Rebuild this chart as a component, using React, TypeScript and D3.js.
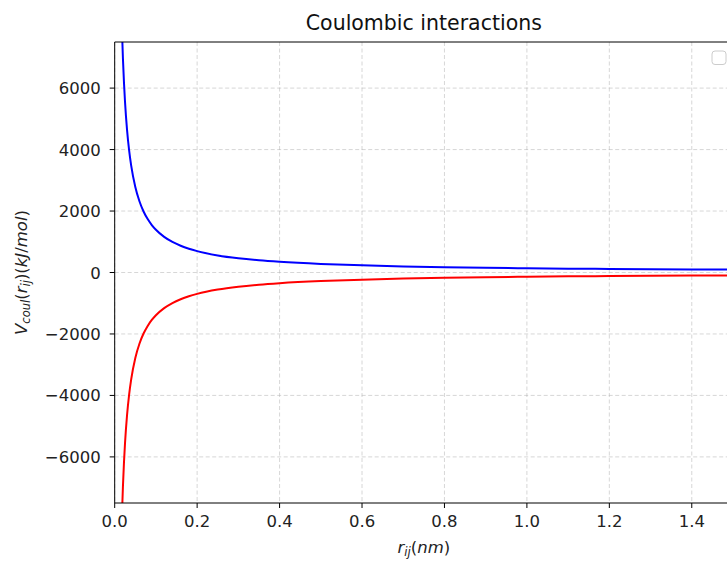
import React from "react";
import * as d3 from "d3";

const rValues = [0.015, 0.0175, 0.02, 0.0225, 0.025, 0.03, 0.035, 0.04, 0.05, 0.06, 0.07, 0.08, 0.09, 0.1, 0.12, 0.14, 0.16, 0.18, 0.2, 0.25, 0.3, 0.35, 0.4, 0.5, 0.6, 0.7, 0.8, 0.9, 1.0, 1.1, 1.2, 1.3, 1.4, 1.5];
const repulsive = [9267, 7943, 6950, 6178, 5560, 4633, 3971, 3475, 2780, 2317, 1986, 1738, 1544, 1390, 1158, 993, 869, 772, 695, 556, 463, 397, 348, 278, 232, 199, 174, 154, 139, 126, 116, 107, 99, 93];
const attractive = [-9267, -7943, -6950, -6178, -5560, -4633, -3971, -3475, -2780, -2317, -1986, -1738, -1544, -1390, -1158, -993, -869, -772, -695, -556, -463, -397, -348, -278, -232, -199, -174, -154, -139, -126, -116, -107, -99, -93];
const xTicks = [0, 0.2, 0.4, 0.6, 0.8, 1.0, 1.2, 1.4];
const yTicks = [-6000, -4000, -2000, 0, 2000, 4000, 6000];
const title = "Coulombic interactions";

const W = 727, H = 563;
const L = 114.7, R = 733, T = 42, B = 503;
const FONT = "'DejaVu Sans', sans-serif";
const FS = 16.5;

export default function App() {
  const x = d3.scaleLinear().domain([0, 1.5]).range([L, R]);
  const y = d3.scaleLinear().domain([-7500, 7500]).range([B, T]);
  const line = d3.line<[number, number]>().x(d => x(d[0])).y(d => y(d[1])).curve(d3.curveMonotoneX);
  const blue = rValues.map((r, i) => [r, repulsive[i]] as [number, number]);
  const red = rValues.map((r, i) => [r, attractive[i]] as [number, number]);
  const fmtY = (v: number) => (v < 0 ? "\u2212" + Math.abs(v) : String(v));
  return (
    <svg width={W} height={H} style={{ position: "absolute", left: 0, top: 0, background: "#fff" }} fontFamily={FONT}>
      <defs>
        <clipPath id="plot"><rect x={L} y={T} width={R - L} height={B - T} /></clipPath>
      </defs>
      <rect x={0} y={0} width={W} height={H} fill="#fff" />
      {/* grid */}
      <g stroke="#b0b0b0" strokeOpacity={0.5} strokeWidth={1} strokeDasharray="4,2.5">
        {xTicks.map(t => <line key={"gx" + t} x1={x(t)} x2={x(t)} y1={T} y2={B} />)}
        {yTicks.map(t => <line key={"gy" + t} x1={L} x2={R} y1={y(t)} y2={y(t)} />)}
      </g>
      <g clipPath="url(#plot)" fill="none" strokeWidth={2} strokeLinejoin="round">
        <path d={line(blue) || ""} stroke="#0000ff" />
        <path d={line(red) || ""} stroke="#ff0000" />
      </g>
      {/* spines */}
      <g stroke="#000" strokeWidth={1}>
        <line x1={L} x2={L} y1={T} y2={B} />
        <line x1={L} x2={R} y1={B} y2={B} />
        <line x1={L} x2={R} y1={T} y2={T} />
        <line x1={R} x2={R} y1={T} y2={B} />
      </g>
      {/* x ticks */}
      {xTicks.map(t => (
        <g key={"xt" + t}>
          <line x1={x(t)} x2={x(t)} y1={B} y2={B + 5} stroke="#000" />
          <text x={x(t)} y={B + 24} textAnchor="middle" fontSize={FS} fill="#222">{t.toFixed(1)}</text>
        </g>
      ))}
      {yTicks.map(t => (
        <g key={"yt" + t}>
          <line x1={L - 5} x2={L} y1={y(t)} y2={y(t)} stroke="#000" />
          <text x={L - 14} y={y(t) + 6} textAnchor="end" fontSize={FS} fill="#222">{fmtY(t)}</text>
        </g>
      ))}
      <text x={(L + R) / 2} y={30} textAnchor="middle" fontSize={20.5} fill="#111">{title}</text>
      {/* x label */}
      <text x={(L + R) / 2} y={553} textAnchor="middle" fontSize={FS} fill="#222">
        <tspan fontStyle="italic">r</tspan>
        <tspan fontStyle="italic" fontSize={FS * 0.7} dy={3}>ij</tspan>
        <tspan dy={-3}>(</tspan>
        <tspan fontStyle="italic">nm</tspan>
        <tspan>)</tspan>
      </text>
      {/* y label */}
      <text transform={`translate(27,${(T + B) / 2}) rotate(-90)`} textAnchor="middle" fontSize={FS} fill="#222">
        <tspan fontStyle="italic">V</tspan>
        <tspan fontStyle="italic" fontSize={FS * 0.7} dy={3}>coul</tspan>
        <tspan dy={-3}>(</tspan>
        <tspan fontStyle="italic">r</tspan>
        <tspan fontStyle="italic" fontSize={FS * 0.7} dy={3}>ij</tspan>
        <tspan dy={-3}>)(</tspan>
        <tspan fontStyle="italic">kJ</tspan>
        <tspan>/</tspan>
        <tspan fontStyle="italic">mol</tspan>
        <tspan>)</tspan>
      </text>
      {/* empty legend */}
      <rect x={712} y={51} width={14} height={13.5} rx={3} fill="#fff" fillOpacity={0.8} stroke="#cccccc" strokeWidth={1} />
    </svg>
  );
}
